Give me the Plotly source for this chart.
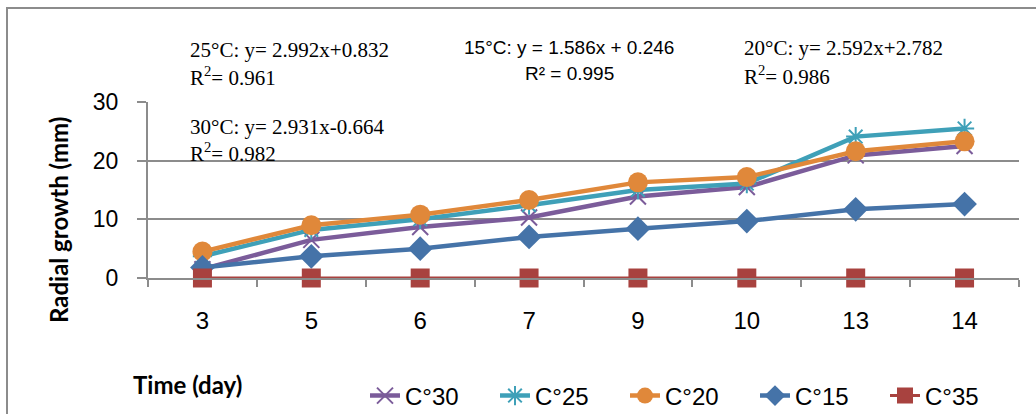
import plotly.graph_objects as go

days = ["3", "5", "6", "7", "9", "10", "13", "14"]
c30 = [1.5, 6.5, 8.7, 10.3, 13.9, 15.5, 20.9, 22.5]
c25 = [3.7, 8.2, 10.0, 12.4, 15.0, 16.1, 24.1, 25.5]
c20 = [4.5, 9.0, 10.8, 13.3, 16.3, 17.2, 21.6, 23.3]
c15 = [1.8, 3.7, 5.0, 7.0, 8.4, 9.7, 11.7, 12.6]
c35 = [0, 0, 0, 0, 0, 0, 0, 0]

W, H = 1036, 414
L, R, T, B = 148, 1019, 102, 278  # plot area in pixels


def px(x):
    return (x - L) / (R - L)


def py(y):
    return (B - y) / (B - T)


series = [
    ("C°30", c30, "#7B5C9A", dict(symbol="x-thin", size=16, line=dict(width=2, color="#7B5C9A")), 4.5),
    ("C°25", c25, "#3FA0B8", dict(symbol="asterisk", size=16, line=dict(width=2, color="#3FA0B8")), 4.5),
    ("C°20", c20, "#E0883A", dict(symbol="circle", size=20), 4.5),
    ("C°15", c15, "#4573A8", dict(symbol="diamond", size=19), 4.5),
    ("C°35", c35, "#A8423F", dict(symbol="square", size=19), 3),
]

fig = go.Figure()
for name, vals, col, mk, lw in series:
    m = dict(color=col)
    m.update(mk)
    fig.add_trace(go.Scatter(x=days, y=vals, name=name, mode="lines+markers",
                             cliponaxis=False,
                             line=dict(color=col, width=lw), marker=m))

grid = "#8C8C8C"
fig.update_layout(
    width=W, height=H,
    margin=dict(l=L, r=W - R, t=T, b=H - B, pad=0, autoexpand=False),
    paper_bgcolor="white", plot_bgcolor="white",
    font=dict(family="Liberation Sans", color="black"),
    showlegend=True,
    legend=dict(orientation="h", x=px(365), y=py(396), xanchor="left", yanchor="middle",
                entrywidth=85, entrywidthmode="pixels",
                font=dict(family="Liberation Sans", size=24, color="black"),
                bgcolor="rgba(0,0,0,0)", traceorder="normal"),
    xaxis=dict(type="category", range=[-0.5, 7.5], showgrid=False, showline=True,
               linecolor=grid, linewidth=2, ticks="outside", tickson="boundaries",
               ticklen=7, tickcolor=grid, tickwidth=2,
               tickfont=dict(family="Liberation Sans", size=24), ticklabelstandoff=20),
    yaxis=dict(range=[0, 30], dtick=10, showgrid=True, gridcolor=grid, gridwidth=2,
               zeroline=False, showline=True, linecolor=grid, linewidth=2,
               ticks="outside", ticklen=9, tickcolor=grid, tickwidth=2,
               tickfont=dict(family="Liberation Sans", size=23), ticklabelstandoff=14),
)

# outer border
fig.add_shape(type="rect", xref="paper", yref="paper",
              x0=px(7), x1=px(1045), y0=py(425), y1=py(8),
              line=dict(color="#8C8C8C", width=2), layer="below")

serif = dict(family="Liberation Serif", size=21, color="black")
sans = dict(family="Liberation Sans", size=19, color="black")
notes = [
    ("25°C: y= 2.992x+0.832", 188, 50, serif),
    ("R<sup>2</sup>= 0.961", 188, 76, serif),
    ("30°C: y= 2.931x-0.664", 188, 127, serif),
    ("R<sup>2</sup>= 0.982", 188, 152, serif),
    ("15°C: y = 1.586x + 0.246", 462, 47, sans),
    ("R² = 0.995", 523, 73, sans),
    ("20°C: y= 2.592x+2.782", 742, 48, serif),
    ("R<sup>2</sup>= 0.986", 742, 75, serif),
]
for txt, x, y, f in notes:
    fig.add_annotation(text=txt, xref="paper", yref="paper", x=px(x), y=py(y),
                       xanchor="left", yanchor="middle", showarrow=False, font=f)

fig.add_annotation(text="<b>Radial growth (mm)</b>", xref="paper", yref="paper",
                   x=px(58), y=py(220), textangle=-90, showarrow=False,
                   xanchor="center", yanchor="middle",
                   font=dict(family="Lato", size=24, color="black"))
fig.add_annotation(text="<b>Time (day)</b>", xref="paper", yref="paper",
                   x=px(187), y=py(384), showarrow=False,
                   xanchor="center", yanchor="middle",
                   font=dict(family="Lato", size=24, color="black"))

fig.write_html("out.html")
